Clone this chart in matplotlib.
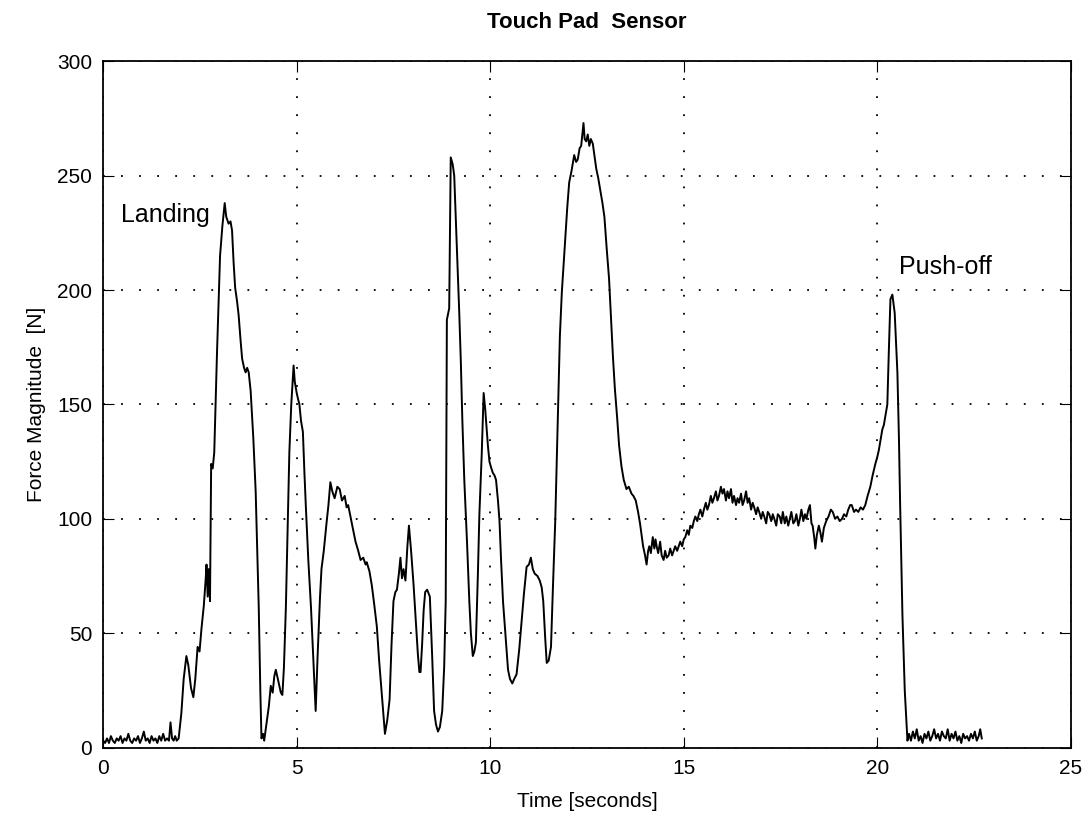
import matplotlib
matplotlib.use('Agg')
import matplotlib.pyplot as plt

plt.rcParams['font.family'] = ['Liberation Sans', 'DejaVu Sans']

# touch pad force record
time_s = [
	0.00, 0.05, 0.10, 0.15, 0.20, 0.25, 0.30, 0.35, 0.40, 0.45, 0.50, 0.55, 0.60, 0.65, 0.70, 0.75,
	0.80, 0.85, 0.90, 0.95, 1.00, 1.05, 1.10, 1.15, 1.20, 1.25, 1.30, 1.35, 1.40, 1.45, 1.50, 1.55,
	1.60, 1.65, 1.70, 1.74, 1.78, 1.82, 1.86, 1.90, 1.95,
	2.02, 2.08, 2.15, 2.20, 2.27, 2.33, 2.38, 2.44, 2.49, 2.54, 2.60, 2.65, 2.67, 2.70, 2.73, 2.76,
	2.79, 2.83, 2.87, 2.94, 3.02, 3.08, 3.14, 3.18, 3.24, 3.29, 3.33, 3.37, 3.41, 3.46, 3.50, 3.55,
	3.59, 3.64, 3.68, 3.72, 3.76, 3.81, 3.88, 3.94, 4.02, 4.06, 4.09, 4.13, 4.16, 4.20, 4.24, 4.28,
	4.33, 4.38, 4.42, 4.46, 4.50, 4.55, 4.59, 4.63, 4.67, 4.72, 4.77, 4.81, 4.86, 4.92, 4.95, 5.00,
	5.04, 5.07, 5.11, 5.16, 5.20, 5.24, 5.30, 5.37, 5.43, 5.49, 5.54, 5.60, 5.64, 5.70, 5.77, 5.82,
	5.87, 5.92, 5.98,
	6.05, 6.11, 6.17, 6.24, 6.29, 6.33, 6.40, 6.46, 6.52, 6.59, 6.65, 6.72, 6.78, 6.81, 6.88, 6.94,
	7.00, 7.07, 7.13, 7.20, 7.28, 7.34, 7.40, 7.45, 7.50, 7.55, 7.59, 7.64, 7.68, 7.72, 7.76, 7.81,
	7.86, 7.90, 7.96, 8.02, 8.08, 8.13, 8.17, 8.20, 8.24, 8.28, 8.32, 8.37, 8.44, 8.50, 8.55, 8.60,
	8.65, 8.70, 8.76, 8.81, 8.85, 8.88, 8.94, 8.98, 9.03, 9.07, 9.11, 9.15, 9.20, 9.24, 9.28, 9.33,
	9.40, 9.46, 9.50, 9.55, 9.59, 9.63, 9.68, 9.72, 9.78, 9.83, 9.87, 9.90, 9.94, 9.98, 10.03, 10.07,
	10.11, 10.15, 10.20, 10.24, 10.28, 10.33, 10.40, 10.46, 10.51, 10.57, 10.62, 10.68, 10.75, 10.81,
	10.87, 10.94, 11.00, 11.05, 11.10, 11.15, 11.22, 11.28, 11.33, 11.37, 11.42, 11.46, 11.51, 11.57,
	11.62, 11.68, 11.72, 11.76, 11.80, 11.85, 11.90, 11.94, 11.99, 12.04, 12.10,
	12.17, 12.22, 12.26, 12.31, 12.35, 12.41, 12.44, 12.48, 12.52, 12.56, 12.60, 12.65, 12.70, 12.74,
	12.79, 12.84, 12.90, 12.95, 13.01, 13.07, 13.12, 13.17, 13.22, 13.28, 13.33, 13.39, 13.45, 13.52,
	13.58, 13.65, 13.70, 13.76, 13.82, 13.87, 13.91, 13.95, 14.00, 14.04,
	14.08, 14.11, 14.15, 14.20, 14.24, 14.27, 14.30, 14.34, 14.39, 14.43, 14.48, 14.52, 14.56, 14.61,
	14.65, 14.70, 14.74, 14.78, 14.83, 14.87, 14.91, 14.96, 15.00, 15.04, 15.09, 15.13, 15.17, 15.22,
	15.26, 15.30, 15.35, 15.39, 15.43, 15.48, 15.52, 15.57, 15.61, 15.65, 15.70, 15.74, 15.78, 15.83,
	15.87, 15.91, 15.96, 16.00, 16.04, 16.09, 16.13, 16.17, 16.22, 16.26, 16.30, 16.35, 16.39, 16.43,
	16.48, 16.52, 16.56, 16.61, 16.65, 16.69, 16.74, 16.78, 16.82, 16.87, 16.91, 16.95, 17.00, 17.04,
	17.08, 17.13, 17.17, 17.21, 17.26, 17.30, 17.34, 17.39, 17.43, 17.48, 17.52, 17.56, 17.61, 17.65,
	17.70, 17.74, 17.78, 17.83, 17.87, 17.91, 17.96, 18.00, 18.04, 18.09, 18.13, 18.17, 18.22, 18.26,
	18.30, 18.33, 18.37, 18.40, 18.44, 18.49, 18.53, 18.57, 18.62, 18.68, 18.74, 18.80, 18.85, 18.91,
	18.97, 19.03, 19.09, 19.14, 19.20, 19.25, 19.30, 19.34, 19.40, 19.45, 19.51, 19.57, 19.63, 19.69,
	19.75, 19.82, 19.88, 19.95, 20.00, 20.04, 20.09, 20.13, 20.17, 20.21, 20.26, 20.30, 20.34, 20.39,
	20.45, 20.52, 20.56, 20.59, 20.65, 20.71, 20.78,
	20.82, 20.87, 20.92, 20.97, 21.02, 21.07, 21.12, 21.17, 21.22, 21.27, 21.32, 21.37, 21.42, 21.47,
	21.52, 21.57, 21.62, 21.67, 21.72, 21.77, 21.82, 21.87, 21.92, 21.97, 22.02, 22.07, 22.12, 22.17,
	22.22, 22.27, 22.32, 22.37, 22.42, 22.47, 22.52, 22.57, 22.62, 22.66, 22.70,
]
force_n = [
	3, 2, 4, 2, 5, 3, 2, 4, 3, 5, 2, 4, 3, 6, 3, 2,
	4, 3, 5, 2, 4, 7, 3, 4, 2, 5, 3, 4, 2, 5, 3, 6,
	3, 4, 3, 11, 4, 3, 5, 3, 4,
	15, 30, 40, 36, 26, 22, 30, 44, 42, 52, 62, 74, 80, 66, 78, 64,
	124, 122, 129, 172, 215, 228, 238, 232, 229, 230, 226, 212, 201, 195, 189, 178,
	170, 166, 164, 166, 164, 156, 135, 112, 61, 25, 4, 6, 3, 8, 13, 18,
	27, 24, 31, 34, 31, 27, 24, 23, 35, 61, 100, 129, 150, 167, 160, 155,
	152, 150, 143, 138, 120, 104, 82, 61, 38, 16, 40, 65, 78, 86, 98, 106,
	116, 112, 109,
	114, 113, 108, 110, 105, 106, 100, 95, 90, 86, 82, 83, 80, 81, 77, 71,
	63, 53, 38, 23, 6, 12, 21, 45, 64, 68, 69, 76, 83, 74, 78, 73,
	88, 97, 85, 71, 55, 41, 33, 33, 45, 60, 68, 69, 66, 40, 16, 10,
	7, 9, 16, 35, 64, 187, 192, 258, 255, 250, 232, 213, 190, 169, 143, 117,
	90, 64, 50, 40, 42, 46, 75, 102, 128, 155, 148, 141, 132, 125, 122, 120,
	119, 117, 108, 99, 82, 64, 48, 34, 30, 28, 30, 32, 43, 55,
	67, 79, 80, 83, 78, 76, 75, 73, 70, 64, 48, 37, 38, 44,
	70, 99, 126, 152, 180, 199, 212, 222, 236, 247, 252,
	259, 256, 257, 262, 263, 273, 266, 265, 268, 263, 266, 264, 258, 253,
	249, 244, 238, 232, 218, 205, 188, 171, 157, 144, 132, 123, 117, 113,
	114, 111, 110, 108, 103, 98, 93, 88, 84, 80,
	86, 88, 85, 92, 87, 91, 88, 85, 90, 84, 82, 86, 83, 84,
	87, 84, 86, 88, 86, 88, 90, 88, 91, 92, 95, 93, 97, 96,
	99, 101, 99, 102, 104, 101, 104, 107, 104, 106, 110, 107, 109, 112,
	108, 110, 114, 111, 113, 108, 112, 109, 113, 107, 110, 106, 109, 107,
	111, 106, 108, 112, 107, 109, 104, 107, 105, 102, 105, 103, 100, 103,
	101, 98, 103, 102, 99, 102, 100, 97, 102, 101, 98, 103, 98, 101,
	97, 100, 103, 98, 99, 102, 97, 100, 104, 99, 102, 100, 104, 106,
	98, 97, 92, 87, 93, 97, 94, 90, 96, 99, 101, 104, 103, 100,
	101, 99, 100, 102, 101, 104, 106, 106, 103, 104, 103, 105, 104, 106,
	110, 114, 119, 124, 127, 130, 135, 139, 141, 145, 150, 174, 196, 198,
	190, 164, 135, 107, 58, 25, 3,
	6, 3, 7, 4, 8, 3, 5, 2, 6, 4, 7, 3, 5, 8,
	4, 6, 3, 7, 5, 4, 8, 3, 6, 4, 7, 3, 5, 2,
	6, 4, 5, 3, 6, 4, 7, 3, 5, 8, 4,
]

x_ticks = [0, 5, 10, 15, 20, 25]
y_ticks = [0, 50, 100, 150, 200, 250, 300]

fig = plt.figure(figsize=(10.86, 8.17), dpi=100)
ax = fig.add_axes([0.095, 0.085, 0.891, 0.84])
ax.plot(time_s, force_n, color='black', linewidth=1.4)

ax.set_xlim(0, 25)
ax.set_ylim(0, 300)
ax.set_xticks(x_ticks)
ax.set_yticks(y_ticks)
ax.grid(True, color='black', linestyle=(0, (1, 9)), linewidth=1.3)
ax.tick_params(direction='in', length=8, top=True, right=True, labelsize=15, pad=8)
for s in ax.spines.values():
	s.set_linewidth(1.3)

ax.set_title('Touch Pad  Sensor', fontsize=16, fontweight='bold', pad=24)
ax.set_xlabel('Time [seconds]', fontsize=15, labelpad=10)
ax.set_ylabel('Force Magnitude  [N]', fontsize=15, labelpad=8)

ax.text(0.45, 233, 'Landing', fontsize=18, va='center')
ax.text(20.55, 210, 'Push-off', fontsize=18, va='center')

fig.savefig('out.png', dpi=100)
